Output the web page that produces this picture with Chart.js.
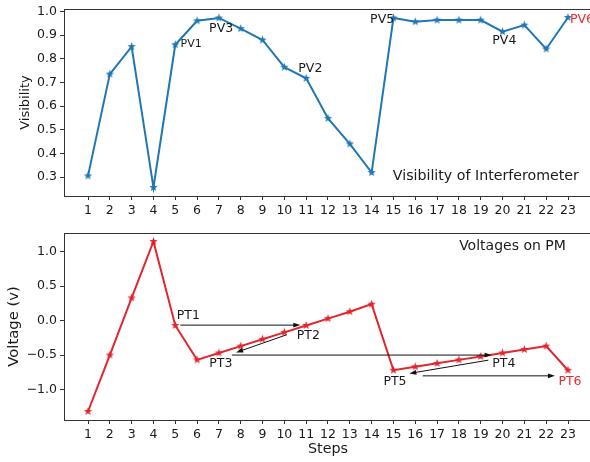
<!DOCTYPE html>
<html>
<head>
<meta charset="utf-8">
<script src="https://cdn.jsdelivr.net/npm/chart.js@4.4.0/dist/chart.umd.min.js"></script>
<style>
    body { margin: 0; width: 590px; height: 462px; overflow: hidden; background: #fff; position: relative; }
    canvas { position: absolute; left: 0; }
    #ctop { top: 0; }
    #cbot { top: 215px; }
</style>
</head>
<body>
<canvas id="ctop" width="610" height="215"></canvas>
<canvas id="cbot" width="610" height="247"></canvas>
<script>
// Data
const steps = [1, 2, 3, 4, 5, 6, 7, 8, 9, 10, 11, 12, 13, 14, 15, 16, 17, 18, 19, 20, 21, 22, 23];
const visibility = [0.305, 0.735, 0.851, 0.256, 0.859, 0.960, 0.972, 0.927, 0.879, 0.764, 0.717, 0.548,
    0.440, 0.319, 0.972, 0.956, 0.963, 0.963, 0.963, 0.914, 0.942, 0.841, 0.974];
const voltage = [-1.32, -0.50, 0.33, 1.15, -0.07, -0.57, -0.47, -0.37, -0.27, -0.17, -0.07, 0.03,
    0.13, 0.24, -0.72, -0.67, -0.62, -0.57, -0.52, -0.47, -0.42, -0.37, -0.72];
const visTicks = [0.3, 0.4, 0.5, 0.6, 0.7, 0.8, 0.9, 1.0];
const voltTicks = [-1.0, -0.5, 0.0, 0.5, 1.0];

// Text annotations (data coordinates: left edge, baseline)
const pvLabels = ["PV1", "PV2", "PV3", "PV4", "PV5", "PV6"];
const pvX = [5.24, 10.64, 6.55, 19.53, 13.93, 23.09];
const pvY = [0.851, 0.745, 0.913, 0.861, 0.952, 0.952];
const ptLabels = ["PT1", "PT2", "PT3", "PT4", "PT5", "PT6"];
const ptX = [5.07, 10.57, 6.56, 19.53, 14.54, 22.56];
const ptY = [0.022, -0.273, -0.672, -0.68, -0.933, -0.933];

// Arrows in the voltage plot (tail -> head)
const arrowFrom = [[5.23, -0.065], [10.1, -0.206], [7.59, -0.50], [19.35, -0.574], [16.34, -0.802]];
const arrowTo = [[10.73, -0.065], [7.79, -0.462], [19.5, -0.50], [15.73, -0.767], [22.4, -0.802]];

const BLUE = "#1f77b4";
const RED = "#e2262d";
const TXT = "#1a1a1a";
const FONT = "DejaVu Sans";

// matplotlib-like 5% margins
function padRange(vals) {
    const lo = Math.min(...vals), hi = Math.max(...vals);
    const m = (hi - lo) * 0.05;
    return [lo - m, hi + m];
}
const xRange = padRange(steps);
const visRange = padRange(visibility);
const voltRange = padRange(voltage);

function makeStar(color, r) {
    const c = document.createElement("canvas");
    const s = Math.ceil(r * 2) + 2;
    c.width = c.height = s;
    const g = c.getContext("2d");
    g.fillStyle = color;
    g.beginPath();
    for (let i = 0; i < 10; i++) {
        const rad = i % 2 ? r * 0.42 : r;
        const a = -Math.PI / 2 + i * Math.PI / 5;
        g.lineTo(s / 2 + rad * Math.cos(a), s / 2 + rad * Math.sin(a));
    }
    g.closePath();
    g.fill();
    return c;
}

const fmtTick = v => (v < 0 ? "\u2212" + Math.abs(v).toFixed(1) : v.toFixed(1));

function xScale(height, title) {
    return {
        type: "linear",
        min: xRange[0], max: xRange[1],
        afterBuildTicks: s => { s.ticks = steps.map(v => ({ value: v })); },
        afterFit: s => { s.height = height; s.paddingLeft = 0; s.paddingRight = 0; },
        ticks: { autoSkip: false, maxRotation: 0, padding: 3, color: TXT, font: { family: FONT, size: 12.5 } },
        grid: { display: true, drawOnChartArea: false, drawTicks: true, tickLength: 4, color: "#333" },
        border: { display: false },
        title: title ? { display: true, text: title, color: TXT, font: { family: FONT, size: 14.3 }, padding: { top: 0, bottom: 4 } } : { display: false }
    };
}

function yScale(range, tickVals, title, size, pad) {
    return {
        min: range[0], max: range[1],
        afterBuildTicks: s => { s.ticks = tickVals.map(v => ({ value: v })); },
        afterFit: s => { s.width = 64; s.paddingTop = 0; s.paddingBottom = 0; },
        ticks: { padding: 3, color: TXT, font: { family: FONT, size: 12.5 }, callback: v => fmtTick(v) },
        grid: { display: true, drawOnChartArea: false, drawTicks: true, tickLength: 4, color: "#333" },
        border: { display: false },
        title: { display: true, text: title, color: TXT, font: { family: FONT, size: size }, padding: { top: pad, bottom: 0 } }
    };
}

// Draws the axes box, texts and arrows
const annotate = {
    id: "annotate",
    afterDraw(chart, args, opts) {
        const { ctx, chartArea: a, scales } = chart;
        const xs = scales.x, ys = scales.y;
        ctx.save();
        ctx.strokeStyle = "#333";
        ctx.lineWidth = 1;
        ctx.strokeRect(Math.round(a.left) + 0.5, Math.round(a.top) + 0.5, Math.round(a.right - a.left), Math.round(a.bottom - a.top));

        ctx.textAlign = "left";
        ctx.textBaseline = "alphabetic";
        opts.labels.forEach((t, i) => {
            const st = opts.styles[t] || {};
            ctx.font = (st.size || 12.5) + "px " + FONT;
            ctx.fillStyle = st.color || TXT;
            ctx.fillText(t, xs.getPixelForValue(opts.xs[i]), ys.getPixelForValue(opts.ys[i]));
        });
        ctx.font = opts.titleSize + "px " + FONT;
        ctx.fillStyle = TXT;
        ctx.fillText(opts.title, xs.getPixelForValue(opts.titlePos[0]), ys.getPixelForValue(opts.titlePos[1]));

        (opts.from || []).forEach((f, i) => {
            const x1 = xs.getPixelForValue(f[0]), y1 = ys.getPixelForValue(f[1]);
            const x2 = xs.getPixelForValue(opts.to[i][0]), y2 = ys.getPixelForValue(opts.to[i][1]);
            const ang = Math.atan2(y2 - y1, x2 - x1);
            ctx.strokeStyle = "#111";
            ctx.fillStyle = "#111";
            ctx.lineWidth = 1;
            ctx.beginPath();
            ctx.moveTo(x1, y1);
            ctx.lineTo(x2 - 3 * Math.cos(ang), y2 - 3 * Math.sin(ang));
            ctx.stroke();
            ctx.beginPath();
            ctx.moveTo(x2, y2);
            ctx.lineTo(x2 - 7 * Math.cos(ang) + 2.4 * Math.sin(ang), y2 - 7 * Math.sin(ang) - 2.4 * Math.cos(ang));
            ctx.lineTo(x2 - 7 * Math.cos(ang) - 2.4 * Math.sin(ang), y2 - 7 * Math.sin(ang) + 2.4 * Math.cos(ang));
            ctx.closePath();
            ctx.fill();
        });
        ctx.restore();
    }
};

function lineData(ys, color) {
    return {
        datasets: [{
            data: steps.map((s, i) => ({ x: s, y: ys[i] })),
            borderColor: color,
            backgroundColor: color,
            borderWidth: 2,
            pointStyle: makeStar(color, 4.4),
            pointRadius: 4,
            tension: 0,
            fill: false
        }]
    };
}

const common = {
    responsive: false,
    animation: false,
    devicePixelRatio: 1,
    events: [],
};

new Chart(document.getElementById("ctop"), {
    type: "line",
    data: lineData(visibility, BLUE),
    plugins: [annotate],
    options: {
        ...common,
        layout: { padding: { left: 0, top: 9, right: 18, bottom: 0 } },
        scales: {
            x: xScale(19, null),
            y: yScale(visRange, visTicks, "Visibility", 13, 18)
        },
        plugins: {
            legend: { display: false },
            tooltip: { enabled: false },
            annotate: {
                labels: pvLabels, xs: pvX, ys: pvY,
                styles: { PV1: { size: 11 }, PV6: { color: "#f02828" } },
                title: "Visibility of Interferometer", titlePos: [14.97, 0.287], titleSize: 14.2
            }
        }
    }
});

new Chart(document.getElementById("cbot"), {
    type: "line",
    data: lineData(voltage, RED),
    plugins: [annotate],
    options: {
        ...common,
        layout: { padding: { left: 0, top: 18, right: 18, bottom: 0 } },
        scales: {
            x: xScale(42, "Steps"),
            y: yScale(voltRange, voltTicks, "Voltage (v)", 14.8, 5)
        },
        plugins: {
            legend: { display: false },
            tooltip: { enabled: false },
            annotate: {
                labels: ptLabels, xs: ptX, ys: ptY,
                styles: { PT6: { color: "#f02828" } },
                title: "Voltages on PM", titlePos: [18.01, 1.02], titleSize: 14,
                from: arrowFrom, to: arrowTo
            }
        }
    }
});
</script>
</body>
</html>
